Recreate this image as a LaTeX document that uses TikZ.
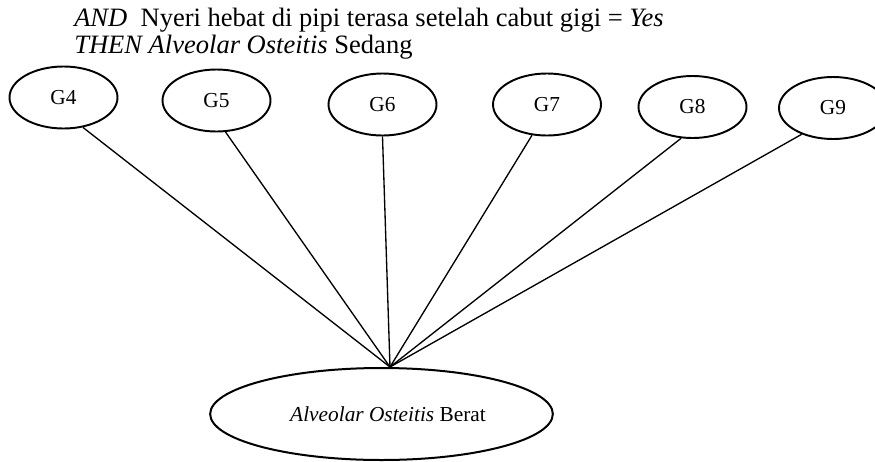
\documentclass[tikz,border=0pt]{standalone}
\usepackage{fontspec}
\setmainfont{Liberation Serif}
\usetikzlibrary{shapes.geometric}
\begin{document}
\begin{tikzpicture}[x=0.75pt,y=-0.75pt,
  gnode/.style={draw, ellipse, line width=1.45pt, minimum width=81pt, minimum height=46.5pt, inner sep=0pt, font=\fontsize{16}{19}\selectfont},
  bignode/.style={draw, ellipse, line width=1.5pt, minimum width=257pt, minimum height=69pt, inner sep=0pt},
  toptext/.style={anchor=base west, inner sep=0pt, font=\fontsize{19.9}{24}\selectfont},
  link/.style={line width=1pt}]
\useasboundingbox (0,0) rectangle (875,461);
\clip (0,0) rectangle (875,461);
\node[toptext] (l1) at (74,26) {\textit{AND}\ \ Nyeri hebat di pipi terasa setelah cabut gigi = \textit{Yes}};
\node[toptext] (l2) at (74,53) {\textit{THEN Alveolar Osteitis} Sedang};
\node[gnode] (g4) at (63.5,97.5) {G4};
\node[gnode] (g5) at (216.5,100.5) {G5};
\node[gnode] (g6) at (382.5,104.5) {G6};
\node[gnode] (g7) at (547,104.5) {G7};
\node[gnode] (g8) at (692.5,107) {G8};
\node[gnode] (g9) at (833,108) {G9};
\node[bignode] (berat) at (381.5,414) {};
\node[anchor=base, inner sep=0pt, font=\fontsize{16}{19}\selectfont] (beratlabel) at (388,421) {\textit{Alveolar Osteitis} Berat};
\coordinate (hub) at (390,367);
\draw[link] (g4.-57) -- (hub);
\draw[link] (g5.-74) -- (hub);
\draw[link] (g6.-90) -- (hub);
\draw[link] (g7.-116) -- (hub);
\draw[link] (g8.-110) -- (hub);
\draw[link] (g9.-140) -- (hub);
\end{tikzpicture}
\end{document}
